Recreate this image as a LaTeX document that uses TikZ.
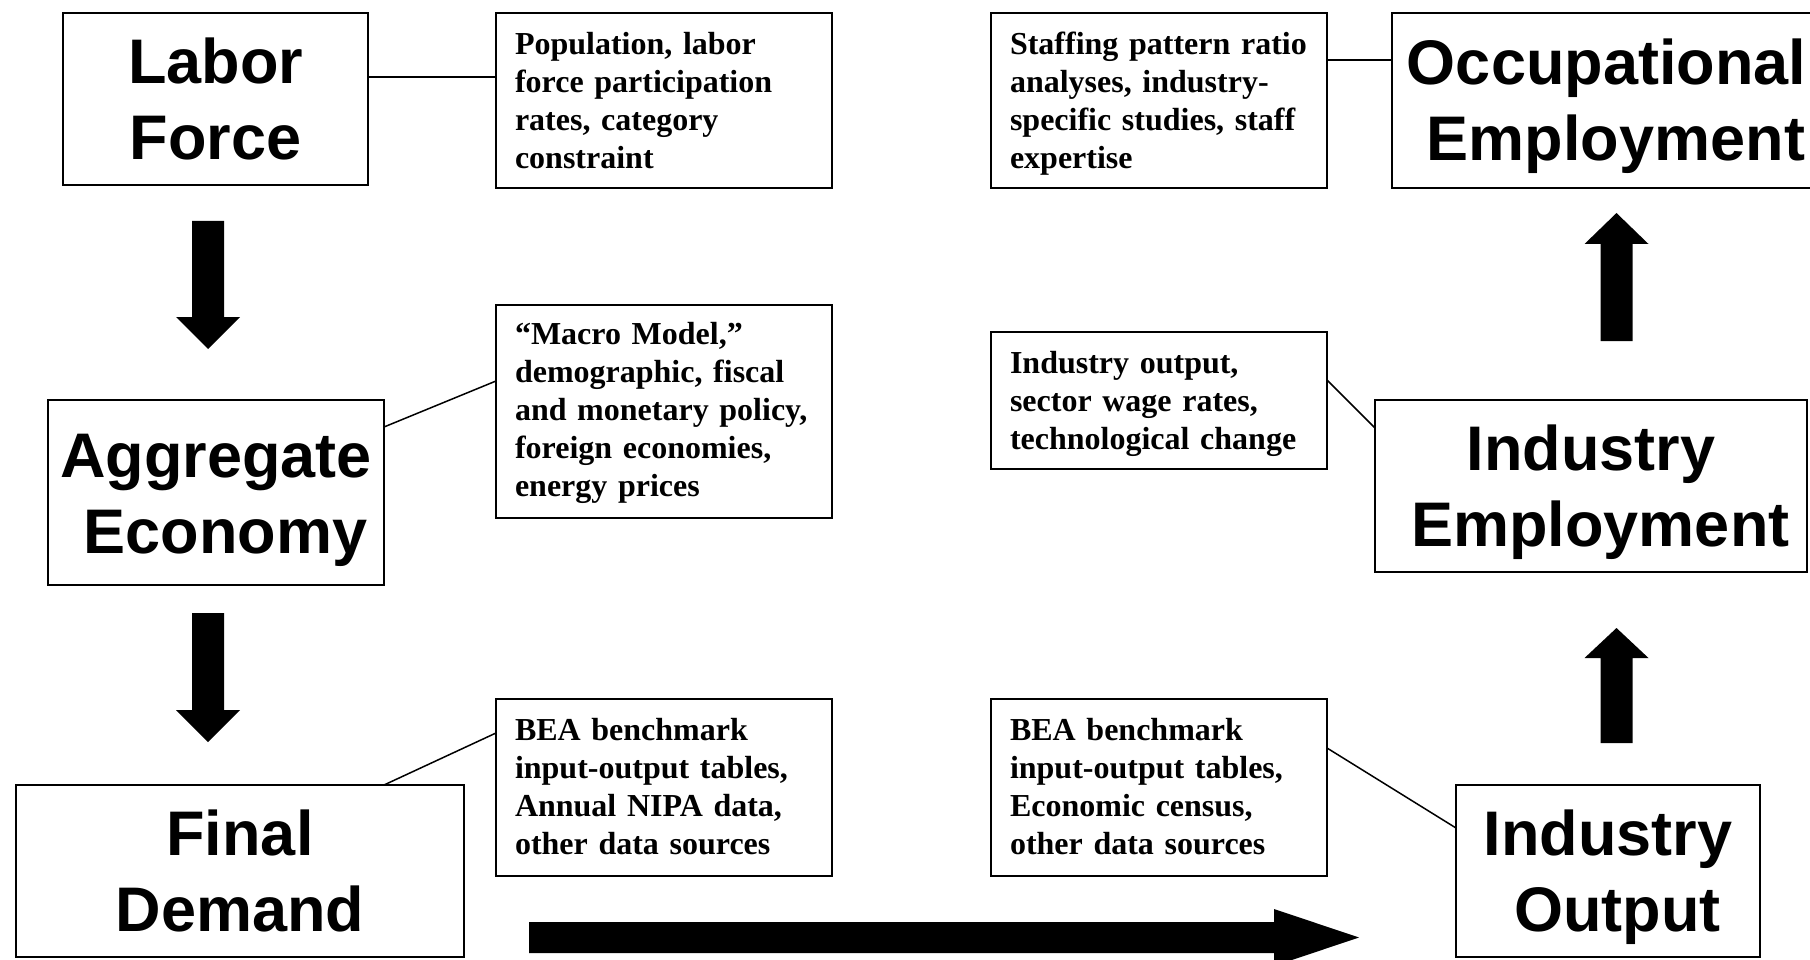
\documentclass[tikz,border=0pt]{standalone}
\usepackage{fontspec}
\setmainfont{Liberation Serif}
\newfontfamily\arialfont{Liberation Sans}
\begin{document}
\begin{tikzpicture}[x=1pt,y=-1pt,
  title/.style={draw, line width=2pt, outer sep=0pt, inner sep=0pt,
    font=\arialfont\bfseries\fontsize{63}{76}\selectfont, align=center,
    text height=121pt, text depth=0pt},
  info/.style={draw, line width=2pt, outer sep=0pt, anchor=north west,
    inner xsep=19pt, inner ysep=0pt, text width=298pt, align=left,
    font=\bfseries\fontsize{32}{38}\selectfont},
  link/.style={line width=1.5pt},
  blockarrow/.style={fill=black}]
\useasboundingbox (0,0) rectangle (1810,960);
\fill[white] (0,0) rectangle (1810,960);
\clip (0,0) rectangle (1810,960);

% title boxes
\node[title, minimum width=305pt, minimum height=172pt] (lf) at (215.5,99) {Labor\\Force};
\node[title, minimum width=336pt, minimum height=185pt] (ag) at (216,492.5) {Aggregate\\\hspace*{0.3em}Economy};
\node[title, minimum width=448pt, minimum height=172pt] (fd) at (240,871) {Final\\Demand};
\node[title, minimum width=304pt, minimum height=172pt] (io) at (1608,871) {Industry\\\hspace*{0.3em}Output};
\node[title, minimum width=432pt, minimum height=172pt] (ie) at (1591,486) {Industry\\\hspace*{0.3em}Employment};
\node[title, minimum width=429pt, minimum height=175pt] (oe) at (1606.5,100.5) {Occupational\\\hspace*{0.3em}Employment};

% info boxes
\node[info, text height=42pt, text depth=133pt] (t1) at (496,13)
  {Population, labor\\force participation\\rates, category\\constraint};
\node[info, text height=39.5pt, text depth=173.5pt] (t2) at (496,305)
  {“Macro Model,”\\demographic, fiscal\\and monetary policy,\\foreign economies,\\energy prices};
\node[info, text height=41pt, text depth=136pt] (t3) at (496,699)
  {BEA benchmark\\input-output tables,\\Annual NIPA data,\\other data sources};
\node[info, text height=41pt, text depth=136pt] (t4) at (991,699)
  {BEA benchmark\\input-output tables,\\Economic census,\\other data sources};
\node[info, text height=42pt, text depth=133pt] (t5) at (991,13)
  {Staffing pattern ratio\\analyses, industry-\\specific studies, staff\\expertise};
\node[info, text height=41pt, text depth=96pt] (t6) at (991,332)
  {Industry output,\\sector wage rates,\\technological change};

% thin connectors
\draw[link] ([yshift=22pt]lf.east) -- ([yshift=22pt]lf.east -| t1.west);
\draw[link] ([yshift=65.5pt]ag.east) -- ([yshift=30.5pt]t2.west);
\draw[link] ([xshift=144pt]fd.north) -- ([yshift=54.5pt]t3.west);
\draw[link] ([yshift=39.5pt]t4.east) -- ([yshift=43pt]io.west);
\draw[link] ([yshift=40.5pt]t5.east) -- ([yshift=40.5pt]t5.east -| oe.west);
\draw[link] ([yshift=20.5pt]t6.east) -- ([yshift=58pt]ie.west);

% block arrows
\fill[blockarrow] (192,221) -- (224,221) -- (224,317) -- (240,317) -- (208,349) -- (176,317) -- (192,317) -- cycle;
\fill[blockarrow] (192,613) -- (224,613) -- (224,710) -- (240,710) -- (208,742) -- (176,710) -- (192,710) -- cycle;
\fill[blockarrow] (1600.5,341) -- (1632.5,341) -- (1632.5,244) -- (1648.5,244) -- (1616.5,213) -- (1584.5,244) -- (1600.5,244) -- cycle;
\fill[blockarrow] (1600.5,743) -- (1632.5,743) -- (1632.5,658) -- (1648.5,658) -- (1616.5,628) -- (1584.5,658) -- (1600.5,658) -- cycle;
\fill[blockarrow] (529,922) -- (1274,922) -- (1274,909) -- (1359,937.5) -- (1274,966) -- (1274,953) -- (529,953) -- cycle;
\end{tikzpicture}
\end{document}
